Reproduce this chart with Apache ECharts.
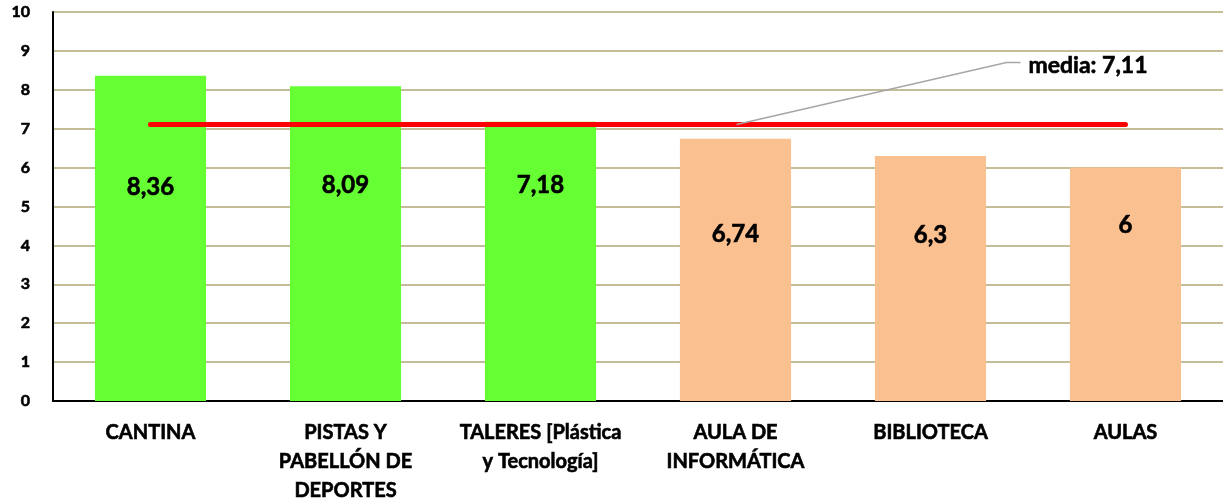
<!DOCTYPE html>
<html>
<head>
<meta charset="utf-8">
<script src="https://cdn.jsdelivr.net/npm/echarts@6/dist/echarts.min.js"></script>
<style>
html,body{margin:0;padding:0;background:#fff;}
#chart{width:1223px;height:504px;}
</style>
</head>
<body>
<div id="chart"></div>
<script>
// ---- data ----
var categories = ['CANTINA', 'PISTAS Y\nPABELLÓN DE\nDEPORTES', 'TALERES [Plástica\ny Tecnología]', 'AULA DE\nINFORMÁTICA', 'BIBLIOTECA', 'AULAS'];
var scores = [8.36, 8.09, 7.18, 6.74, 6.3, 6];
var mean = 7.11;
var meanLabel = 'media: 7,11';
var yTicks = [0, 1, 2, 3, 4, 5, 6, 7, 8, 9, 10];

// ---- styles ----
var GREEN = '#66FF33', ORANGE = '#FAC090';
var labelDrop = [111, 99, 64, 95, 79, 58]; // label offset from bar top (px)
var FONT = 'Lato, "Open Sans", sans-serif';
var W = 'bold';
var STROKE = { textBorderColor: '#000', textBorderWidth: 0.6 };

function fmt(v) { return String(v).replace('.', ','); }

var barData = scores.map(function (v, i) {
  return {
    value: v,
    itemStyle: { color: v >= mean ? GREEN : ORANGE },
    label: Object.assign({
      show: true,
      position: ['50%', labelDrop[i]],
      align: 'center',
      verticalAlign: 'middle',
      formatter: fmt(v),
      color: '#000',
      fontFamily: FONT,
      fontWeight: W,
      fontSize: 24
    }, STROKE)
  };
});

var meanData = categories.map(function () { return mean; });

var chart = echarts.init(document.getElementById('chart'), null, { renderer: 'canvas' });
chart.setOption({
  animation: false,
  backgroundColor: '#fff',
  grid: { left: 53, right: 0, top: 12, bottom: 103, containLabel: false, outerBoundsMode: 'none' },
  xAxis: {
    type: 'category',
    data: categories,
    axisLine: { show: true, lineStyle: { color: '#000', width: 2 } },
    axisTick: { show: false },
    axisLabel: Object.assign({
      interval: 0,
      margin: 17,
      color: '#000',
      fontFamily: FONT,
      fontWeight: W,
      fontSize: 20,
      lineHeight: 29,
      verticalAlign: 'top'
    }, STROKE)
  },
  yAxis: {
    type: 'value',
    min: yTicks[0],
    max: yTicks[yTicks.length - 1],
    interval: 1,
    axisLine: { show: true, lineStyle: { color: '#000', width: 2 } },
    axisTick: { show: false },
    splitLine: { show: true, lineStyle: { color: '#C4BD97', width: 2 } },
    axisLabel: Object.assign({
      margin: 23,
      color: '#000',
      fontFamily: FONT,
      fontWeight: W,
      fontSize: 16
    }, STROKE)
  },
  series: [
    {
      type: 'bar',
      data: barData,
      barWidth: '57%'
    },
    {
      type: 'line',
      data: meanData,
      symbol: 'none',
      lineStyle: { color: '#FF0000', width: 5, cap: 'round' },
      z: 5
    }
  ]
});

// leader label for the mean, anchored at the 4th point of the mean line
var p = chart.convertToPixel({ xAxisIndex: 0, yAxisIndex: 0 }, [3, mean]);
chart.setOption({
  graphic: [
    {
      type: 'polyline',
      shape: { points: [[p[0] + 1, p[1]], [p[0] + 271, p[1] - 62], [p[0] + 285, p[1] - 62]] },
      style: { stroke: '#A6A6A6', lineWidth: 1.5, fill: null },
      z: 10
    },
    {
      type: 'text',
      x: p[0] + 293,
      y: p[1] - 59,
      style: {
        text: meanLabel,
        fill: '#000',
        stroke: '#000',
        lineWidth: 0.6,
        font: 'bold 23px ' + FONT,
        verticalAlign: 'middle'
      },
      z: 10
    }
  ]
});
</script>
</body>
</html>
